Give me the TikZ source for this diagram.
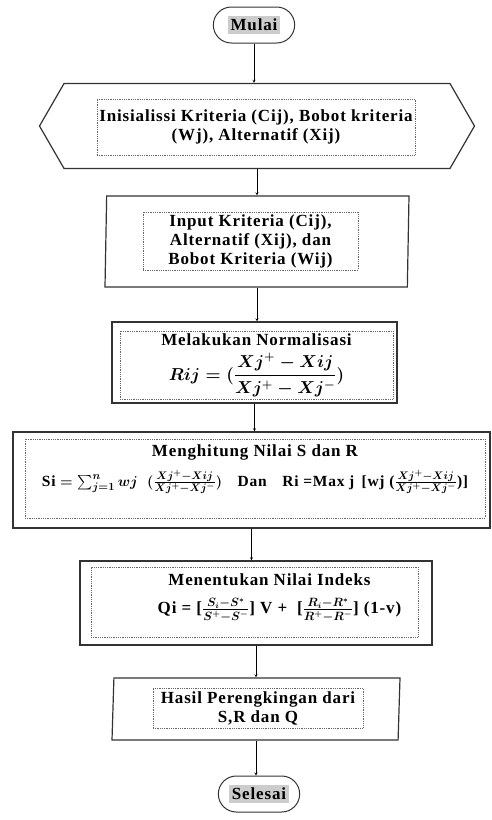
\documentclass[tikz,border=0pt]{standalone}
\usepackage{amsmath}
\usepackage{fontspec}
\setmainfont{Liberation Serif}[LetterSpace=5]
\usetikzlibrary{shapes.geometric,shapes.misc,shapes.symbols}

\tikzset{
  term/.style={rounded rectangle, draw=black!80, line width=1pt, minimum width=88pt, minimum height=36pt},
  prep/.style={signal, signal to=east and west, signal pointer angle=120, draw=black!80, line width=1.2pt, minimum width=435pt, minimum height=85pt},
  io/.style={trapezium, trapezium stretches body, draw=black!80, line width=1.2pt},
  proc/.style={rectangle, draw=black!80, line width=1.2pt},
  dotbox/.style={rectangle, draw=black!60, densely dotted, line width=0.8pt, align=center, inner sep=0pt},
}

\begin{document}
\begin{tikzpicture}[x=1pt, y=-1pt, >=stealth, font=\rmfamily\fontsize{17}{19}\selectfont\bfseries\boldmath]
        \useasboundingbox (0,0) rectangle (491,820);

        \node (mulai) [term] at (254,25) {\colorbox{black!20}{Mulai}};

        \node (init) [prep] at (257,126) {};
        \node (inittxt) [dotbox, minimum width=318pt, minimum height=56pt] at (256,127) {Inisialissi Kriteria (Cij), Bobot kriteria\\(Wj), Alternatif (Xij)};

        \node (input) [io, trapezium left angle=76, trapezium right angle=104, minimum width=304pt, minimum height=91pt] at (257,241.5) {};
        \node (inputtxt) [dotbox, minimum width=215pt, minimum height=58pt] at (250.5,241) {Input Kriteria (Cij),\\Alternatif (Xij), dan\\Bobot Kriteria (Wij)};

        \node (norm) [proc, minimum width=285pt, minimum height=81pt] at (254.5,362.5) {};
        \node (normtxt) [dotbox, minimum width=273pt, minimum height=68pt] at (256.5,365) {Melakukan Normalisasi\\[7pt]$Rij = (\dfrac{Xj^{+} - Xij}{Xj^{+} - Xj^{-}})$};

        \node (hitung) [proc, minimum width=477pt, minimum height=96pt] at (251.5,480) {};
        \node (hitungtxt) [dotbox, minimum width=460pt, minimum height=79pt, text depth=26pt] at (255,478.5) {Menghitung Nilai S dan R\\[9pt]{\fontsize{15.5}{18}\selectfont Si $=\sum_{j=1}^{n} wj\;\;(\frac{Xj^{+}-Xij}{Xj^{+}-Xj^{-}})$\quad Dan\quad Ri =Max j\, [wj ($\frac{Xj^{+}-Xij}{Xj^{+}-Xj^{-}}$)]}};

        \node (indeks) [proc, minimum width=352pt, minimum height=84pt] at (256,603) {};
        \node (indekstxt) [dotbox, minimum width=327pt, minimum height=70pt, text depth=16pt] at (254.5,602) {\hspace*{30pt}Menentukan Nilai Indeks\\[9pt]\hspace*{50pt}Qi = [$\frac{S_i - S^{*}}{S^{+} - S^{-}}$] V + \;[$\frac{R_i - R^{*}}{R^{+} - R^{-}}$] (1-v)};

        \node (hasil) [io, trapezium left angle=74, trapezium right angle=106, minimum width=288pt, minimum height=62pt] at (256,709) {};
        \node (hasiltxt) [dotbox, minimum width=210pt, minimum height=40pt] at (258,708) {Hasil Perengkingan dari\\S,R dan Q};

        \node (selesai) [term] at (259,794) {\colorbox{black!20}{Selesai}};

        \draw [->] (mulai.south) -- (mulai.south |- init.north);
        \draw [->] (init.south) -- (init.south |- input.north);
        \draw [->] (input.south) -- (input.south |- norm.north);
        \draw [->] (norm.south) -- (norm.south |- hitung.north);
        \draw [->] (hitung.south) -- (hitung.south |- indeks.north);
        \draw [->] (indeks.south) -- (indeks.south |- hasil.north);
        \draw [->] (hasil.south) -- (hasil.south |- selesai.north);
    \end{tikzpicture}
\end{document}
